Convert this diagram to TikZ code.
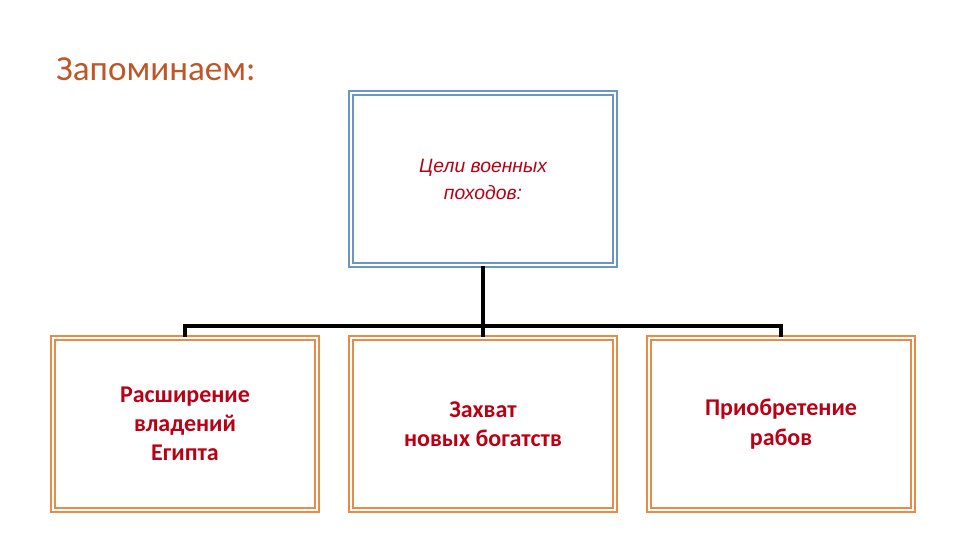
\documentclass[tikz,border=0pt]{standalone}
\usepackage{fontspec}
\setmainfont{Carlito}
\newfontfamily\arialfont{Liberation Sans}
\usepackage{tikz}
\usetikzlibrary{positioning}

\definecolor{titleorange}{RGB}{190,86,40}
\definecolor{textred}{RGB}{185,0,20}
\definecolor{frameblue}{RGB}{105,150,195}
\definecolor{frameorange}{RGB}{228,140,72}

\tikzset{
  framebox/.style={draw=#1, double=white, line width=0.06cm, double distance=0.06cm,
    minimum width=7.92cm, minimum height=5.16cm, align=center, inner sep=0pt},
  goaltext/.style={font=\arialfont\itshape\fontsize{16.5}{23}\selectfont, text=textred},
  itemtext/.style={font=\bfseries\fontsize{20.5}{25}\selectfont, text=textred},
  treeline/.style={line width=3.6pt, line join=miter}
}

\begin{document}
\begin{tikzpicture}[x=0.03cm, y=-0.03cm]
\useasboundingbox (0,0) rectangle (960,540);
%%%%% Title %%%%%
\node[anchor=base west, inner sep=0pt, text=titleorange, font=\fontsize{30}{36}\selectfont] (title) at (56,81) {Запоминаем:};
%%%%% Boxes %%%%%
\node[framebox=frameblue, goaltext] (goal) at (483,179) {Цели военных\\походов:};
\node[framebox=frameorange, itemtext] (land) at (185,424) {Расширение\\владений\\Египта};
\node[framebox=frameorange, itemtext] (wealth) at (483,424) {Захват\\новых богатств};
\node[framebox=frameorange, itemtext] (slaves) at (781,424) {Приобретение\\рабов};
%%%%% Connectors %%%%%
\coordinate (bus) at (483,326);
\draw[treeline] (goal.south) -- (wealth.north);
\draw[treeline] (land.north) |- (bus) -| (slaves.north);
\end{tikzpicture}
\end{document}
